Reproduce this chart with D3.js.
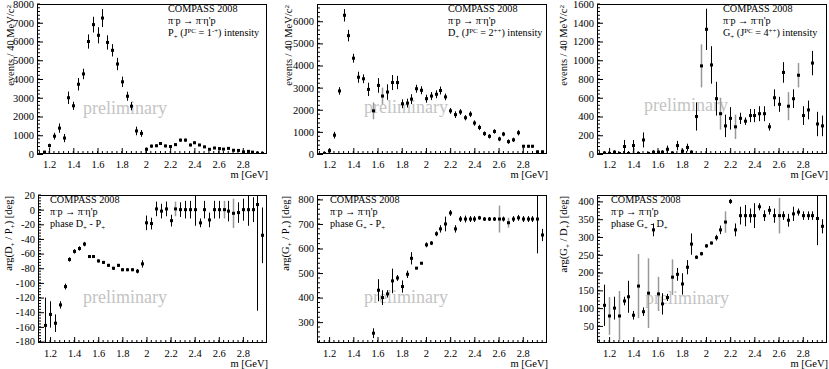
<!DOCTYPE html>
<html><head><meta charset="utf-8">
<script src="https://cdn.jsdelivr.net/npm/d3@7"></script>
<style>body{margin:0;background:#fff} svg{display:block} text{font-family:"Liberation Serif","DejaVu Serif",serif;fill:#000}</style>
</head><body>
<svg id="c" width="829" height="369"></svg>
<script>
// ---------- data ----------
const mass = [1.16,1.20,1.24,1.28,1.32,1.36,1.40,1.44,1.48,1.52,1.56,1.60,1.64,1.68,1.72,1.76,1.80,1.84,1.88,1.92,1.96,2.00,2.04,2.08,2.12,2.16,2.20,2.24,2.28,2.32,2.36,2.40,2.44,2.48,2.52,2.56,2.60,2.64,2.68,2.72,2.76,2.80,2.84,2.88,2.92,2.96];

const pIntensity = [100,450,950,1380,850,3000,2570,3720,4270,6000,6900,6330,7250,5950,5530,4800,3850,3080,2550,1230,1100,250,420,440,560,430,400,500,740,740,480,600,480,380,250,320,290,260,300,200,190,110,140,100,50,30];
const pError = [40,100,180,250,220,330,220,330,280,380,420,430,480,380,330,330,280,240,220,230,180,100,80,70,80,70,70,70,80,80,70,70,60,60,50,50,50,50,50,50,50,40,40,40,30,30];

const dIntensity = [20,150,850,2850,6270,5350,4330,3470,3400,2920,1950,3100,2620,2800,3230,3230,2270,2300,2480,2950,2880,2500,2620,2700,2870,2580,1950,1780,1900,1640,1800,1400,1200,920,800,1020,680,900,560,640,960,350,350,350,100,100];
const dError = [30,60,150,170,280,260,200,250,200,300,380,330,380,350,340,300,200,200,220,180,180,180,180,180,180,150,130,150,130,120,130,120,120,100,100,100,100,100,100,100,120,60,60,60,50,50];
const dGray = [10,12];

const gIntensity = [10,5,20,5,80,5,90,5,150,5,20,20,20,50,10,90,30,70,20,400,940,1330,950,590,430,300,380,290,380,350,410,410,430,430,290,600,530,870,510,590,840,410,470,970,320,300];
const gError = [20,10,20,10,70,10,60,10,80,10,20,15,20,40,15,50,25,40,20,150,230,220,200,180,170,120,120,130,60,40,70,70,80,80,40,90,80,110,150,100,130,100,100,130,130,110];
const gGray = [20,24,27,38,40];

const phaseDP = [-158,-143,-155,-130,-105,-68,-57,-53,-47,-64,-64,-70,-72,-76,-80,-76,-82,-82,-82,-84,-74,-18,-19,1,-2,1,-15,1,0,0,0,0,-18,0,-14,0,0,0,-2,-5,-4,0,0,0,7,-35];
const phaseDPErr = [38,18,12,5,4,3,3,3,3,2,2,2,2,2,2,2,2,2,2,3,5,10,8,10,10,10,8,10,10,12,12,22,6,12,10,12,12,12,14,20,14,15,22,17,145,38];
const phaseDPGray = [27,37,39];

const phaseGP = [null,null,null,null,null,null,null,null,null,null,255,430,400,415,468,480,445,495,560,520,540,615,622,660,680,700,745,680,720,720,720,720,725,720,720,720,720,720,705,720,725,720,720,720,720,655];
const phaseGPErr = [null,null,null,null,null,null,null,null,null,null,20,45,30,15,50,12,25,15,25,4,4,10,8,10,15,30,12,15,12,14,12,12,8,8,8,8,55,10,20,12,12,12,12,12,140,25];
const phaseGPGray = [36,38];

const phaseGD = [108,78,100,78,120,132,80,162,90,142,320,140,112,130,187,195,168,215,280,243,253,275,283,298,320,342,400,320,360,360,360,360,385,360,375,360,360,360,347,365,370,360,360,360,352,330];
const phaseGDErr = [58,53,32,70,12,45,12,90,12,98,18,48,30,10,50,18,30,20,30,5,5,5,4,8,12,30,7,18,25,30,20,35,10,15,12,20,50,12,18,20,10,12,12,12,75,20];
const phaseGDGray = [1,3,7,9,11,14,25,36];

const xTicks = [1.2,1.4,1.6,1.8,2.0,2.2,2.4,2.6,2.8];
const pTicks = [0,1000,2000,3000,4000,5000,6000,7000,8000];
const dTicks = [0,1000,2000,3000,4000,5000,6000];
const gTicks = [0,200,400,600,800,1000,1200,1400,1600];
const dpTicks = [-180,-160,-140,-120,-100,-80,-60,-40,-20,0,20];
const gpTicks = [300,400,500,600,700,800];
const gdTicks = [50,100,150,200,250,300,350,400];

// ---------- text helpers ----------
const FS = 10.5;
const LFS = 10.2;
function rich(sel, segs, size){
  let cur = 0;
  segs.forEach(s => {
    const small = s.sup || s.sub;
    const off = s.sup ? -size*0.33 : s.sub ? size*0.25 : 0;
    sel.append('tspan').text(s.t).attr('dy', off - cur).attr('font-size', small ? size*0.68 : size);
    cur = off;
  });
}
const reaction = [{t:'π'},{t:'-',sup:1},{t:'p → π'},{t:'-',sup:1},{t:'η\'p'}];
const evTitle = [{t:'events / 40 MeV/c'},{t:'2',sup:1}];

const panels = [
 {x0:37,x1:267,y0:4,y1:154, v:pIntensity, e:pError, gray:[], ydom:[0,8000], yt:pTicks, ymin:200, title:evTitle, tx:14,
  lx:168, ly:[12,24,36], lines:[[{t:'COMPASS 2008'}], reaction, [{t:'P'},{t:'+',sub:1},{t:' (J'},{t:'PC',sup:1},{t:' = 1'},{t:'-+',sup:1},{t:') intensity'}]],
  px:125, py:114},
 {x0:317,x1:547,y0:4,y1:154, v:dIntensity, e:dError, gray:dGray, ydom:[0,6780], yt:dTicks, ymin:200, title:evTitle, tx:292,
  lx:448, ly:[12,24,36], lines:[[{t:'COMPASS 2008'}], reaction, [{t:'D'},{t:'+',sub:1},{t:' (J'},{t:'PC',sup:1},{t:' = 2'},{t:'++',sup:1},{t:') intensity'}]],
  px:406, py:113},
 {x0:597,x1:827,y0:4,y1:154, v:gIntensity, e:gError, gray:gGray, ydom:[0,1600], yt:gTicks, ymin:40, title:evTitle, tx:567,
  lx:723, ly:[12,24,36], lines:[[{t:'COMPASS 2008'}], reaction, [{t:'G'},{t:'+',sub:1},{t:' (J'},{t:'PC',sup:1},{t:' = 4'},{t:'++',sup:1},{t:') intensity'}]],
  px:686, py:111},
 {x0:38,x1:267,y0:195,y1:343, v:phaseDP, e:phaseDPErr, gray:phaseDPGray, ydom:[-182,20], yt:dpTicks, ymin:4,
  title:[{t:'arg(D'},{t:'+',sub:1},{t:' / P'},{t:'+',sub:1},{t:') [deg]'}], tx:12,
  lx:50, ly:[203,215,227], lines:[[{t:'COMPASS 2008'}], reaction, [{t:'phase D'},{t:'+',sub:1},{t:' - P'},{t:'+',sub:1}]],
  px:125, py:303},
 {x0:317,x1:547,y0:195,y1:343, v:phaseGP, e:phaseGPErr, gray:phaseGPGray, ydom:[215,818], yt:gpTicks, ymin:20,
  title:[{t:'arg(G'},{t:'+',sub:1},{t:' / P'},{t:'+',sub:1},{t:') [deg]'}], tx:289,
  lx:330, ly:[203,215,227], lines:[[{t:'COMPASS 2008'}], reaction, [{t:'phase G'},{t:'+',sub:1},{t:' - P'},{t:'+',sub:1}]],
  px:406, py:303},
 {x0:597,x1:827,y0:195,y1:343, v:phaseGD, e:phaseGDErr, gray:phaseGDGray, ydom:[2,418], yt:gdTicks, ymin:10,
  title:[{t:'arg(G'},{t:'+',sub:1},{t:' / D'},{t:'+',sub:1},{t:') [deg]'}], tx:567,
  lx:611, ly:[203,215,227], lines:[[{t:'COMPASS 2008'}], reaction, [{t:'phase G'},{t:'+',sub:1},{t:' - D'},{t:'+',sub:1}]],
  px:687, py:304}
];

const svg = d3.select('#c');
const fmt = d3.format('~g');
const yfmt = d => String(d);   // hyphen-minus like the original

panels.forEach((P, pi) => {
  const x = d3.scaleLinear().domain([1.1, 3.0]).range([P.x0, P.x1]);
  const y = d3.scaleLinear().domain(P.ydom).range([P.y1, P.y0]);
  const g = svg.append('g');

  // preliminary watermark
  g.append('text').attr('x', P.px).attr('y', P.py).attr('text-anchor','middle')
    .attr('font-size', 18).style('fill','#c4c4c4').text('preliminary');

  // clip
  const cid = 'clip' + pi;
  svg.append('clipPath').attr('id', cid).append('rect')
    .attr('x', P.x0).attr('y', P.y0).attr('width', P.x1 - P.x0).attr('height', P.y1 - P.y0);

  // x minor ticks (inside, upward)
  const xMinor = d3.range(1.12, 3.0, 0.04).map(v => +v.toFixed(2));
  g.selectAll(null).data(xMinor).enter().append('line')
    .attr('x1', d => x(d)).attr('x2', d => x(d))
    .attr('y1', P.y1).attr('y2', P.y1 - 3).attr('stroke','#000').attr('stroke-width',1);
  const xAxis = d3.axisBottom(x).tickValues(xTicks).tickSize(-6).tickFormat(fmt).tickPadding(9);
  const gx = g.append('g').attr('transform', `translate(0,${P.y1})`).call(xAxis);
  gx.attr('font-family', null);
  gx.select('.domain').remove();
  gx.selectAll('line').attr('stroke','#000');
  gx.selectAll('text').attr('font-size', FS).attr('dy','0.71em').attr('y', 7);

  // y minor ticks
  const yMinor = d3.range(Math.ceil(P.ydom[0]/P.ymin)*P.ymin, P.ydom[1] + 1e-9, P.ymin);
  g.selectAll(null).data(yMinor).enter().append('line')
    .attr('x1', P.x0).attr('x2', P.x0 + 3)
    .attr('y1', d => y(d)).attr('y2', d => y(d)).attr('stroke','#000');
  const yAxis = d3.axisLeft(y).tickValues(P.yt).tickSize(-6).tickFormat(yfmt).tickPadding(9);
  const gy = g.append('g').attr('transform', `translate(${P.x0},0)`).call(yAxis);
  gy.attr('font-family', null);
  gy.select('.domain').remove();
  gy.selectAll('line').attr('stroke','#000');
  gy.selectAll('text').attr('font-size', FS).attr('x', -3);

  // frame
  g.append('rect').attr('x', P.x0 + 0.5).attr('y', P.y0 + 0.5)
    .attr('width', P.x1 - P.x0 - 1).attr('height', P.y1 - P.y0 - 1)
    .attr('fill','none').attr('stroke','#000').attr('stroke-width',1);

  // axis titles
  g.append('text').attr('x', P.x1 + 1).attr('y', P.y1 + 24).attr('text-anchor','end')
    .attr('font-size', FS).text('m [GeV]');
  const yt = g.append('text').attr('transform', `translate(${P.tx},${P.y0 + 1}) rotate(-90)`)
    .attr('text-anchor','end').attr('font-size', FS);
  rich(yt, P.title, FS);

  // legend text
  P.lines.forEach((ln, i) => {
    const t = g.append('text').attr('x', P.lx).attr('y', P.ly[i]).attr('font-size', LFS);
    rich(t, ln, LFS);
  });

  // data
  const pts = mass.map((m, i) => ({m, v: P.v[i], e: P.e[i], gray: P.gray.includes(i)})).filter(d => d.v !== null);
  const dg = g.append('g').attr('clip-path', `url(#${cid})`);
  dg.selectAll(null).data(pts).enter().append('line')
    .attr('x1', d => Math.round(x(d.m)) + 0.5).attr('x2', d => Math.round(x(d.m)) + 0.5)
    .attr('y1', d => y(d.v - d.e)).attr('y2', d => y(d.v + d.e))
    .attr('stroke', d => d.gray ? '#999' : '#000').attr('stroke-width', d => d.gray ? 1.5 : 1);
  dg.selectAll(null).data(pts).enter().append('rect')
    .attr('x', d => Math.round(x(d.m)) - 1).attr('y', d => y(d.v) - 1.5)
    .attr('width', 3).attr('height', 3).attr('fill', '#000');
});
</script>
</body></html>
